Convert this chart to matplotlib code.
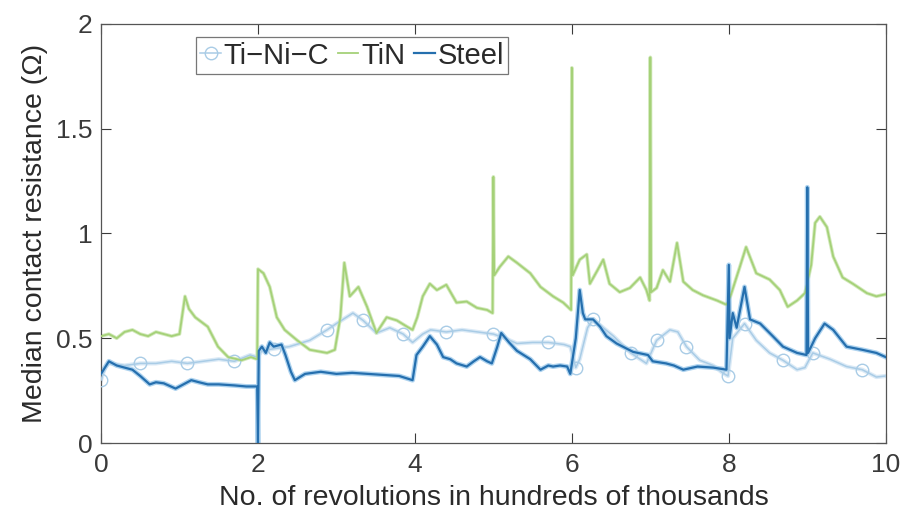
import matplotlib
matplotlib.use("Agg")
import matplotlib.pyplot as plt

plt.rcParams['font.family'] = ['Liberation Sans', 'DejaVu Sans']

# ---------------- data (x in hundreds of thousands of revolutions) -------------
steel_x = [0, 0.05, 0.1, 0.2, 0.3, 0.4, 0.5, 0.62, 0.7, 0.8,
           0.95, 1.05, 1.15, 1.25, 1.36, 1.5, 1.7, 1.85, 1.99, 2.0,
           2.01, 2.05, 2.1, 2.15, 2.2, 2.3, 2.35, 2.42, 2.47, 2.6,
           2.8, 3.0, 3.2, 3.4, 3.6, 3.8, 3.97, 4.02, 4.1, 4.19,
           4.28, 4.36, 4.45, 4.53, 4.66, 4.75, 4.83, 4.92, 4.98, 5.05,
           5.1, 5.2, 5.3, 5.47, 5.6, 5.7, 5.76, 5.85, 5.94, 5.98,
           6.05, 6.1, 6.14, 6.17, 6.27, 6.36, 6.44, 6.57, 6.78, 6.97,
           7.03, 7.2, 7.3, 7.42, 7.6, 7.8, 7.97, 8.0, 8.01, 8.05,
           8.1, 8.2, 8.27, 8.4, 8.56, 8.69, 8.87, 8.99, 9.0, 9.01,
           9.1, 9.22, 9.33, 9.5, 9.7, 9.88, 10.0]
steel_y = [0.33, 0.36, 0.39, 0.37, 0.36, 0.35, 0.32, 0.28, 0.29, 0.285,
           0.26, 0.28, 0.30, 0.29, 0.28, 0.28, 0.275, 0.27, 0.27, 0.0,
           0.44, 0.46, 0.43, 0.48, 0.46, 0.47, 0.42, 0.34, 0.30, 0.33,
           0.34, 0.33, 0.335, 0.33, 0.325, 0.32, 0.30, 0.42, 0.46, 0.51,
           0.47, 0.41, 0.40, 0.38, 0.365, 0.39, 0.41, 0.39, 0.38, 0.46,
           0.525, 0.48, 0.44, 0.40, 0.35, 0.37, 0.365, 0.37, 0.365, 0.33,
           0.50, 0.73, 0.62, 0.59, 0.59, 0.555, 0.51, 0.475, 0.435, 0.42,
           0.39, 0.38, 0.37, 0.35, 0.365, 0.36, 0.35, 0.85, 0.50, 0.62,
           0.55, 0.745, 0.59, 0.57, 0.51, 0.46, 0.43, 0.42, 1.22, 0.43,
           0.50, 0.57, 0.54, 0.46, 0.445, 0.43, 0.41]

tin_x = [0, 0.1, 0.2, 0.3, 0.4, 0.5, 0.6, 0.7, 0.8, 0.9,
         1.0, 1.07, 1.12, 1.2, 1.36, 1.49, 1.62, 1.79, 1.91, 1.99,
         2.0, 2.07, 2.15, 2.24, 2.34, 2.5, 2.66, 2.88, 2.98, 3.05,
         3.1, 3.17, 3.28, 3.39, 3.51, 3.64, 3.77, 3.9, 3.97, 4.03,
         4.1, 4.19, 4.28, 4.4, 4.53, 4.66, 4.79, 4.92, 4.99, 5.0,
         5.01, 5.08, 5.19, 5.3, 5.47, 5.6, 5.76, 5.89, 5.99, 6.0,
         6.01, 6.1, 6.19, 6.23, 6.32, 6.4, 6.48, 6.61, 6.74, 6.87,
         6.95, 6.99, 7.0, 7.01, 7.08, 7.16, 7.25, 7.34, 7.42, 7.54,
         7.67, 7.85, 7.97, 8.02, 8.14, 8.22, 8.35, 8.52, 8.65, 8.75,
         8.87, 8.97, 9.05, 9.1, 9.16, 9.25, 9.33, 9.45, 9.58, 9.76,
         9.88, 10.0]
tin_y = [0.51, 0.52, 0.50, 0.53, 0.54, 0.52, 0.51, 0.53, 0.52, 0.51,
         0.52, 0.70, 0.64, 0.60, 0.555, 0.46, 0.41, 0.395, 0.41, 0.40,
         0.83, 0.81, 0.745, 0.60, 0.54, 0.49, 0.445, 0.43, 0.445, 0.60,
         0.86, 0.70, 0.745, 0.65, 0.525, 0.60, 0.585, 0.555, 0.54, 0.60,
         0.70, 0.76, 0.73, 0.755, 0.67, 0.675, 0.645, 0.635, 0.62, 1.27,
         0.80, 0.84, 0.89, 0.86, 0.81, 0.745, 0.70, 0.67, 0.635, 1.79,
         0.80, 0.875, 0.90, 0.76, 0.82, 0.875, 0.76, 0.72, 0.74, 0.79,
         0.73, 0.68, 1.84, 0.72, 0.74, 0.825, 0.77, 0.955, 0.77, 0.73,
         0.705, 0.68, 0.66, 0.70, 0.84, 0.935, 0.81, 0.78, 0.73, 0.65,
         0.68, 0.715, 0.85, 1.05, 1.08, 1.03, 0.89, 0.79, 0.76, 0.715,
         0.70, 0.71]

tinic_x = [0, 0.05, 0.1, 0.3, 0.5, 0.7, 0.9, 1.1, 1.3, 1.5,
           1.7, 1.9, 1.99, 2.05, 2.2, 2.4, 2.66, 2.88, 3.0, 3.21,
           3.34, 3.51, 3.68, 3.85, 3.97, 4.1, 4.2, 4.4, 4.6, 4.8,
           5.0, 5.15, 5.3, 5.5, 5.7, 5.9, 5.98, 6.05, 6.1, 6.2,
           6.27, 6.4, 6.53, 6.75, 6.95, 7.08, 7.25, 7.35, 7.46, 7.63,
           7.8, 7.92, 7.99, 8.05, 8.2, 8.35, 8.52, 8.69, 8.87, 8.97,
           9.07, 9.29, 9.5, 9.7, 9.88, 10.0]
tinic_y = [0.30, 0.36, 0.38, 0.37, 0.38, 0.38, 0.39, 0.38, 0.39, 0.40,
           0.39, 0.42, 0.41, 0.44, 0.45, 0.46, 0.49, 0.54, 0.57, 0.62,
           0.585, 0.525, 0.55, 0.52, 0.48, 0.52, 0.54, 0.53, 0.54, 0.53,
           0.52, 0.50, 0.475, 0.48, 0.48, 0.47, 0.46, 0.36, 0.40, 0.55,
           0.59, 0.55, 0.51, 0.43, 0.38, 0.49, 0.54, 0.53, 0.46, 0.395,
           0.37, 0.335, 0.32, 0.50, 0.57, 0.49, 0.43, 0.395, 0.35, 0.36,
           0.43, 0.40, 0.365, 0.35, 0.315, 0.32]

labels = ['Ti\u2212Ni\u2212C', 'TiN', 'Steel']
x_ticks = [0, 2, 4, 6, 8, 10]
y_ticks = [0, 0.5, 1, 1.5, 2]
y_tick_labels = ['0', '0.5', '1', '1.5', '2']

# ---------------- figure -------------
fig = plt.figure(figsize=(9.02, 5.17), dpi=100)
ax = fig.add_axes([0.112, 0.143, 0.870, 0.811])

c_tinic = '#a9cce6'
c_tin = '#a5d178'
c_steel = '#256fae'

# soft halos (multiple samples look)
ax.plot(tinic_x, tinic_y, color='#dbeaf6', lw=3, zorder=1)
ax.plot(tin_x, tin_y, color='#d3eabd', lw=2.6, zorder=1)
ax.plot(steel_x, steel_y, color='#aed3ef', lw=3.5, zorder=2)

ax.plot(tinic_x, tinic_y, color=c_tinic, lw=1.1, marker='o', ms=9,
        mfc='none', mec=c_tinic, mew=1.0, markevery=0.055, zorder=3,
        label=labels[0])
ax.plot(tin_x, tin_y, color=c_tin, lw=1.3, zorder=3, label=labels[1])
ax.plot(steel_x, steel_y, color=c_steel, lw=1.6, zorder=4, label=labels[2])

ax.set_xlim(0, 10)
ax.set_ylim(0, 2)
ax.set_xticks(x_ticks)
ax.set_yticks(y_ticks)
ax.set_yticklabels(y_tick_labels)
ax.tick_params(direction='in', top=True, right=True, length=7, width=0.8,
               labelsize=19, colors='#3a3a3a', pad=6)
ax.tick_params(axis='x', pad=7)
for s in ax.spines.values():
    s.set_color('#555555')
    s.set_linewidth(0.9)

ax.set_xlabel('No. of revolutions in hundreds of thousands', fontsize=20.5,
              color='#2a2a2a', labelpad=6)
ax.set_ylabel('Median contact resistance (\u03a9)', fontsize=20.5,
              color='#2a2a2a', labelpad=6)

leg = ax.legend(loc='upper left', bbox_to_anchor=(0.121, 0.968), ncol=3,
                frameon=True, fancybox=False, fontsize=21, handlelength=0.7,
                handletextpad=0.1, columnspacing=0.3, borderpad=0.15,
                borderaxespad=0)
leg.get_frame().set_edgecolor('#555555')
leg.get_frame().set_linewidth(0.9)
for t in leg.get_texts():
    t.set_color('#2a2a2a')

fig.savefig('out.png', dpi=100, facecolor='white')
